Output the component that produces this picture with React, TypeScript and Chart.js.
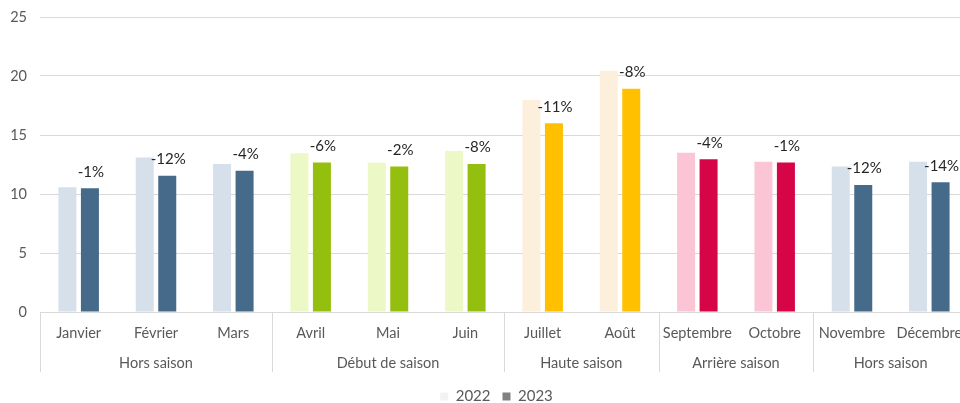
import React, { useEffect, useRef } from 'react';
import { Chart, registerables } from 'chart.js';

Chart.register(...registerables);

const months = ['Janvier', 'Février', 'Mars', 'Avril', 'Mai', 'Juin', 'Juillet', 'Août', 'Septembre', 'Octobre', 'Novembre', 'Décembre'];
const seasons = ['Hors saison', 'Hors saison', 'Hors saison', 'Début de saison', 'Début de saison', 'Début de saison', 'Haute saison', 'Haute saison', 'Arrière saison', 'Arrière saison', 'Hors saison', 'Hors saison'];
const values2022 = [10.57, 13.1, 12.54, 13.45, 12.65, 13.64, 17.97, 20.45, 13.5, 12.74, 12.32, 12.74];
const values2023 = [10.48, 11.55, 11.97, 12.68, 12.34, 12.54, 15.99, 18.93, 12.94, 12.68, 10.76, 10.99];
const changeLabels = ['-1%', '-12%', '-4%', '-6%', '-2%', '-8%', '-11%', '-8%', '-4%', '-1%', '-12%', '-14%'];
const colors2022 = ['#d6e0ea', '#d6e0ea', '#d6e0ea', '#ecf9c6', '#ecf9c6', '#ecf9c6', '#fcefdc', '#fcefdc', '#fcc5d6', '#fcc5d6', '#d6e0ea', '#d6e0ea'];
const colors2023 = ['#466a89', '#466a89', '#466a89', '#95bf0e', '#95bf0e', '#95bf0e', '#ffc000', '#ffc000', '#d60548', '#d60548', '#466a89', '#466a89'];
const yTicks = [0, 5, 10, 15, 20, 25];
const legendNames = ['2022', '2023'];
const legendColors = ['#f2f2f2', '#808080'];

const FONT = 'Lato, "Noto Sans", sans-serif';

const groupPlugin = {
  id: 'groupAxis',
  afterDraw(chart: any) {
    const { ctx, chartArea } = chart;
    const xs = chart.scales.x;
    const top = chartArea.bottom;
    const bottom = top + 60;
    const groups: { label: string; left: number; right: number }[] = [];
    let start = 0;
    for (let i = 1; i <= seasons.length; i++) {
      if (i === seasons.length || seasons[i] !== seasons[start]) {
        const left = start === 0 ? chartArea.left : (xs.getPixelForTick(start - 1) + xs.getPixelForTick(start)) / 2;
        const right = i === seasons.length ? chartArea.right : (xs.getPixelForTick(i - 1) + xs.getPixelForTick(i)) / 2;
        groups.push({ label: seasons[start], left, right });
        start = i;
      }
    }
    ctx.save();
    ctx.strokeStyle = '#d9d9d9';
    ctx.lineWidth = 1;
    groups.forEach((g) => {
      const x = Math.round(g.left) + 0.5;
      ctx.beginPath();
      ctx.moveTo(x, top);
      ctx.lineTo(x, bottom);
      ctx.stroke();
    });
    ctx.fillStyle = '#595959';
    ctx.font = `14.5px ${FONT}`;
    ctx.textAlign = 'center';
    ctx.textBaseline = 'middle';
    groups.forEach((g) => {
      ctx.fillText(g.label, (g.left + g.right) / 2, top + 51.5);
    });
    ctx.restore();
  },
};

const labelPlugin = {
  id: 'changeLabels',
  afterDatasetsDraw(chart: any) {
    const { ctx } = chart;
    const meta = chart.getDatasetMeta(1);
    ctx.save();
    ctx.fillStyle = '#262626';
    ctx.font = `15px ${FONT}`;
    ctx.textAlign = 'center';
    ctx.textBaseline = 'middle';
    meta.data.forEach((bar: any, i: number) => {
      ctx.fillText(changeLabels[i], bar.x + 1, bar.y - 16.5);
    });
    ctx.restore();
  },
};

export default function App() {
  const ref = useRef<HTMLCanvasElement>(null);
  useEffect(() => {
    if (!ref.current) return;
    const chart = new Chart(ref.current, {
      type: 'bar',
      data: {
        labels: months,
        datasets: [
          { label: '2022', data: values2022, backgroundColor: colors2022, borderWidth: 0, categoryPercentage: 0.582, barPercentage: 0.8 },
          { label: '2023', data: values2023, backgroundColor: colors2023, borderWidth: 0, categoryPercentage: 0.582, barPercentage: 0.8 },
        ],
      },
      options: {
        responsive: false,
        animation: false,
        layout: { padding: { top: 17, left: 0, right: 0, bottom: 0 } },
        plugins: {
          tooltip: { enabled: false },
          legend: {
            position: 'bottom',
            labels: {
              boxWidth: 8,
              boxHeight: 8,
              padding: 12,
              color: '#595959',
              font: { size: 15, family: FONT },
              generateLabels: () =>
                legendNames.map((n, i) => ({
                  text: n,
                  fillStyle: legendColors[i],
                  strokeStyle: legendColors[i],
                  lineWidth: 0,
                  hidden: false,
                  datasetIndex: i,
                  fontColor: '#595959',
                })),
            },
          },
        },
        scales: {
          x: {
            grid: { display: false, drawTicks: false },
            border: { display: false },
            ticks: { color: '#595959', font: { size: 14.5, family: FONT }, padding: 13, maxRotation: 0, autoSkip: false },
            afterFit: (s: any) => {
              s.height = 65;
            },
          },
          y: {
            min: 0,
            max: 25,
            afterBuildTicks: (s: any) => {
              s.ticks = yTicks.map((v) => ({ value: v }));
            },
            grid: { color: '#d9d9d9', drawTicks: true, tickLength: 9, tickColor: 'rgba(0,0,0,0)' },
            border: { display: false },
            ticks: { color: '#595959', font: { size: 14.5, family: FONT }, padding: 4 },
            afterFit: (s: any) => {
              s.width = 40;
            },
          },
          y2: {
            position: 'right',
            display: true,
            grid: { display: false, drawTicks: false },
            border: { display: false },
            ticks: { display: false },
            afterFit: (s: any) => {
              s.width = 25;
            },
          },
        },
      },
      plugins: [groupPlugin, labelPlugin],
    } as any);
    return () => chart.destroy();
  }, []);
  return (
    <div style={{ position: 'fixed', left: 0, top: 0, width: 960, height: 403, overflow: 'hidden', background: '#fff' }}>
      <canvas ref={ref} width={993} height={414} style={{ display: 'block' }} />
    </div>
  );
}
